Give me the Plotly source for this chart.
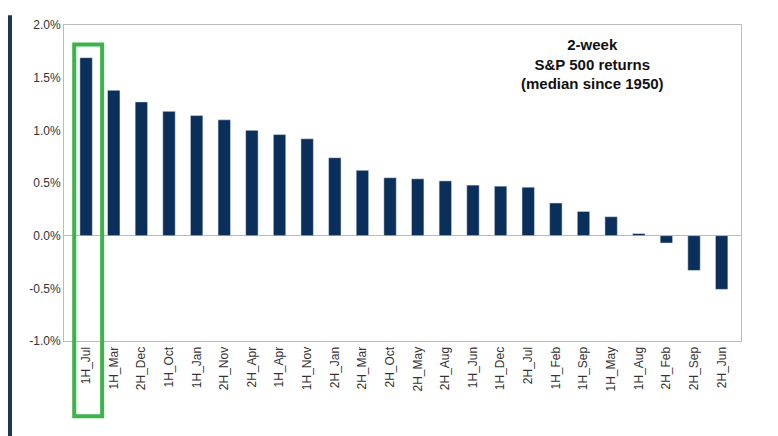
import plotly.graph_objects as go

categories = ["1H_Jul","1H_Mar","2H_Dec","1H_Oct","1H_Jan","2H_Nov","2H_Apr","1H_Apr","1H_Nov","2H_Jan",
              "2H_Mar","2H_Oct","2H_May","2H_Aug","1H_Jun","1H_Dec","2H_Jul","1H_Feb","1H_Sep","1H_May",
              "1H_Aug","2H_Feb","2H_Sep","2H_Jun"]
values = [1.69,1.38,1.27,1.18,1.14,1.10,1.00,0.96,0.92,0.74,0.62,0.55,0.54,0.52,0.48,0.47,0.46,0.31,0.23,0.18,
          0.02,-0.07,-0.33,-0.51]
tick_vals = [-1.0,-0.5,0.0,0.5,1.0,1.5,2.0]
tick_text = ["-1.0%","-0.5%","0.0%","0.5%","1.0%","1.5%","2.0%"]

fig = go.Figure(go.Bar(x=list(range(len(categories))), y=values, marker_color="#0b2f5b", width=0.45))
fig.update_layout(
    width=778, height=436, margin=dict(l=56, r=45, t=10, b=103),
    paper_bgcolor="white", plot_bgcolor="white", showlegend=False,
    font=dict(family="Liberation Sans, Arial", size=12, color="#333"),
    xaxis=dict(range=[-0.8, 23.7], tickmode="array", tickvals=list(range(len(categories))),
               ticktext=categories, tickangle=-90, showline=True, linecolor="#bbb", mirror=True,
               showgrid=False, zeroline=False, ticks=""),
    yaxis=dict(range=[-1.0, 2.0], tickmode="array", tickvals=tick_vals, ticktext=tick_text,
               showline=True, linecolor="#bbb", mirror=True, showgrid=False,
               zeroline=True, zerolinecolor="#bbb", zerolinewidth=1, ticks=""),
    shapes=[
        dict(type="rect", xref="x", yref="paper", x0=-0.43, x1=0.58, y0=-0.238, y1=0.938,
             line=dict(color="#3cb44b", width=4)),
        dict(type="rect", xref="paper", yref="paper", x0=-56/677, x1=-52/677, y0=-103/323, y1=1+10/323,
             fillcolor="#1f3550", line=dict(width=0)),
    ],
    annotations=[dict(x=0.78, y=0.97, xref="paper", yref="paper", xanchor="center", yanchor="top",
                      showarrow=False, text="<b>2-week<br>S&P 500 returns<br>(median since 1950)</b>",
                      font=dict(size=15, color="#111"))],
)
fig.write_html("out.html")
